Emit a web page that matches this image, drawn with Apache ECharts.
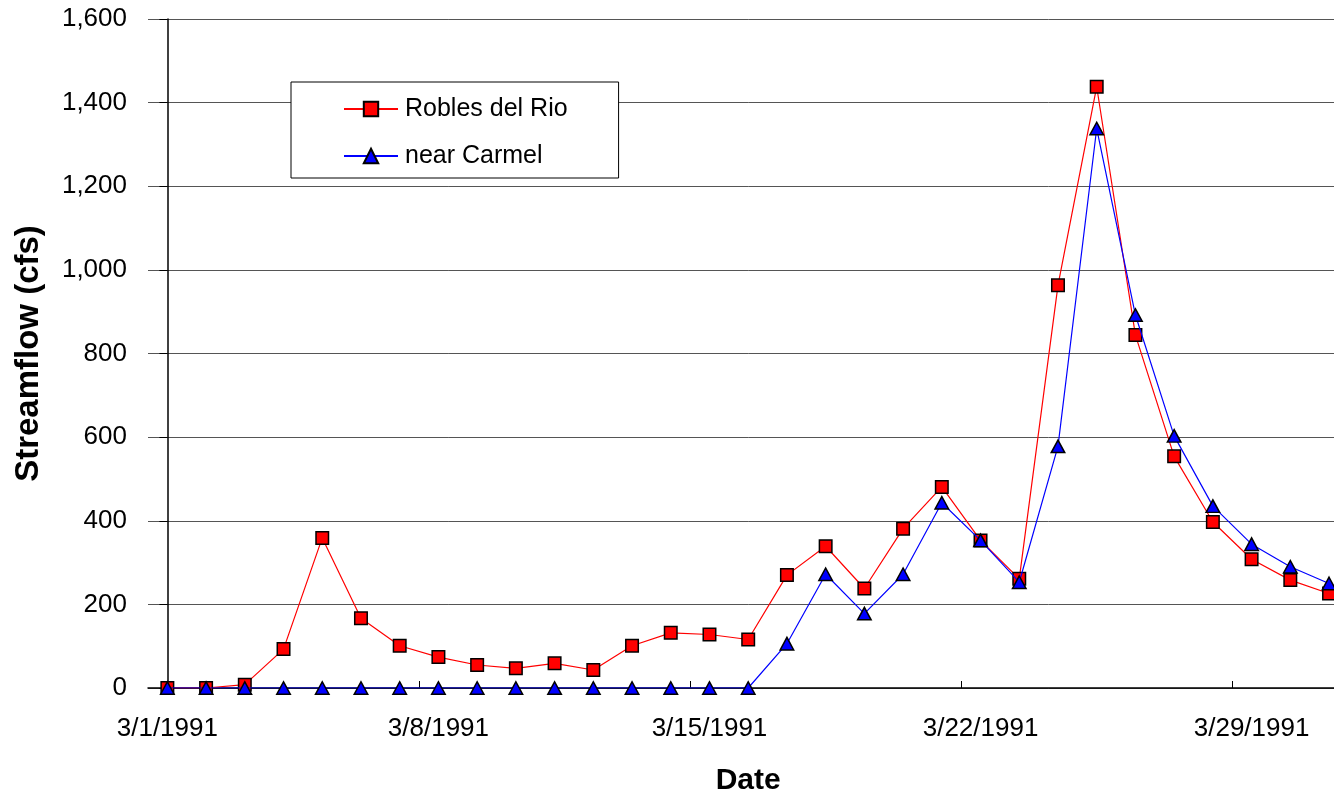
<!DOCTYPE html>
<html>
<head>
<meta charset="utf-8">
<title>Streamflow, March 1991</title>
<script src="https://cdn.jsdelivr.net/npm/echarts@6/dist/echarts.min.js"></script>
<style>
  html, body { margin: 0; padding: 0; background: #fff; overflow: hidden; }
  #chart { width: 1360px; height: 795px; }
</style>
</head>
<body>
<div id="chart"></div>
<script>
// Daily dates, March 1991
const dates = [
  '3/1/1991','3/2/1991','3/3/1991','3/4/1991','3/5/1991','3/6/1991','3/7/1991',
  '3/8/1991','3/9/1991','3/10/1991','3/11/1991','3/12/1991','3/13/1991','3/14/1991',
  '3/15/1991','3/16/1991','3/17/1991','3/18/1991','3/19/1991','3/20/1991','3/21/1991',
  '3/22/1991','3/23/1991','3/24/1991','3/25/1991','3/26/1991','3/27/1991','3/28/1991',
  '3/29/1991','3/30/1991','3/31/1991'
];

// Streamflow (cfs) at Robles del Rio
const roblesDelRio = [
  0, 0, 8, 93, 359, 167, 101,
  74, 55, 47, 59, 43, 101, 132,
  128, 116, 270, 339, 238, 381, 481,
  353, 261, 963, 1438, 844, 554, 397,
  308, 258, 226
];

// Streamflow (cfs) near Carmel
const nearCarmel = [
  0, 0, 0, 0, 0, 0, 0,
  0, 0, 0, 0, 0, 0, 0,
  0, 0, 106, 272, 178, 272, 443,
  353, 253, 578, 1338, 892, 603, 435,
  344, 290, 250
];

// Labelled dates (weekly) and tick positions between days
const labelDays = [0, 7, 14, 21, 28];
const tickDays = [6.5, 13.5, 20.5, 27.5];
const yTicks = [0, 200, 400, 600, 800, 1000, 1200, 1400, 1600];

const toPoints = vals => vals.map((v, i) => [i, v]);
const fmtThousands = v => String(v).replace(/\B(?=(\d{3})+(?!\d))/g, ',');

const FONT = '"Liberation Sans", Arial, sans-serif';

const chart = echarts.init(document.getElementById('chart'), null, { renderer: 'canvas' });
chart.setOption({
  animation: false,
  backgroundColor: '#ffffff',
  textStyle: { fontFamily: FONT, color: '#000' },
  grid: { left: 148, right: 11.6, top: 19, bottom: 107, containLabel: false, outerBoundsMode: 'none' },
  legend: {
    orient: 'vertical',
    left: 291,
    top: 82,
    backgroundColor: '#ffffff',
    borderColor: '#000000',
    borderWidth: 1,
    borderRadius: 0,
    padding: [14, 51, 9, 52],
    itemWidth: 54,
    itemHeight: 18,
    itemGap: 21,
    textStyle: { fontFamily: FONT, fontSize: 25, color: '#000', lineHeight: 26, padding: [0, 0, 0, 2] },
    data: ['Robles del Rio', 'near Carmel']
  },
  xAxis: {
    type: 'value',
    min: -0.5,
    max: 30.5,
    name: 'Date',
    nameLocation: 'middle',
    nameGap: 78,
    nameTextStyle: { fontFamily: FONT, fontSize: 30, fontWeight: 'bold', color: '#000' },
    axisLine: { show: true, onZero: false, lineStyle: { color: '#000', width: 1.5 } },
    axisTick: { show: true, inside: true, length: 7, customValues: tickDays, lineStyle: { color: '#000', width: 1 } },
    axisLabel: {
      show: true,
      customValues: labelDays,
      margin: 28,
      fontFamily: FONT,
      fontSize: 26,
      color: '#000',
      formatter: v => dates[Math.round(v)] || ''
    },
    splitLine: { show: false }
  },
  yAxis: {
    type: 'value',
    min: 0,
    max: 1600,
    interval: 200,
    name: 'Streamflow (cfs)',
    nameLocation: 'middle',
    nameRotate: 90,
    nameGap: 103,
    nameTextStyle: { fontFamily: FONT, fontSize: 33, fontWeight: 'bold', color: '#000' },
    axisLine: { show: true, lineStyle: { color: '#000', width: 1.5 } },
    axisTick: { show: true, inside: false, length: 8, lineStyle: { color: '#000', width: 1 } },
    axisLabel: {
      margin: 21,
      fontFamily: FONT,
      fontSize: 26,
      color: '#000',
      formatter: v => yTicks.includes(v) ? fmtThousands(v) : ''
    },
    splitLine: { show: true, lineStyle: { color: '#555', width: 1 } }
  },
  series: [
    {
      name: 'Robles del Rio',
      type: 'line',
      data: toPoints(roblesDelRio),
      symbol: 'rect',
      symbolSize: 12.5,
      showAllSymbol: true,
      lineStyle: { color: '#ff0000', width: 1.2 },
      itemStyle: { color: '#ff0000', borderColor: '#000', borderWidth: 1.5 },
      z: 2
    },
    {
      name: 'near Carmel',
      type: 'line',
      data: toPoints(nearCarmel),
      symbol: 'triangle',
      symbolSize: [13.5, 12.5],
      showAllSymbol: true,
      lineStyle: { color: '#0000ff', width: 1.2 },
      itemStyle: { color: '#0000ff', borderColor: '#000', borderWidth: 1.5 },
      z: 3
    }
  ]
});
</script>
</body>
</html>
